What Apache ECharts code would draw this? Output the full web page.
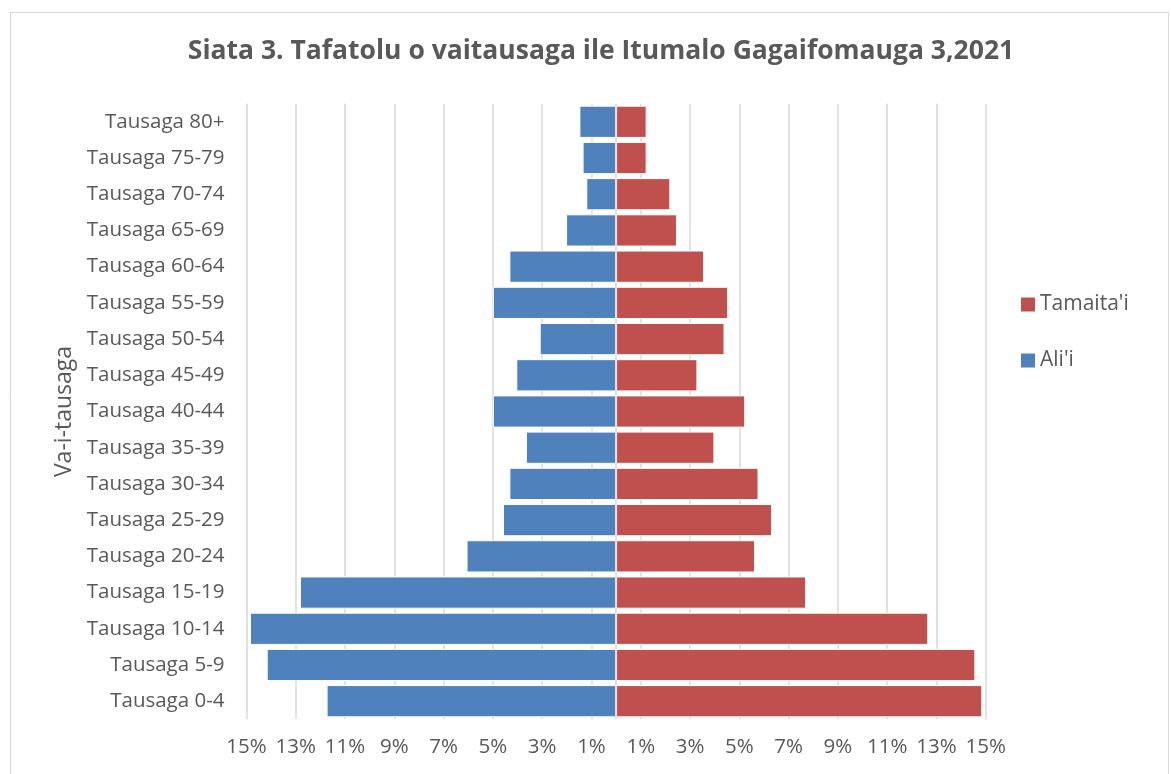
<!DOCTYPE html>
<html>
<head>
<meta charset="utf-8">
<script src="https://cdn.jsdelivr.net/npm/echarts@6/dist/echarts.min.js"></script>
<style>
  html, body { margin: 0; padding: 0; background: #fff; }
  #main { width: 1171px; height: 774px; }
</style>
</head>
<body>
<div id="main"></div>
<script>
// age groups, bottom to top
var ageGroups = ['Tausaga 0-4', 'Tausaga 5-9', 'Tausaga 10-14', 'Tausaga 15-19', 'Tausaga 20-24',
  'Tausaga 25-29', 'Tausaga 30-34', 'Tausaga 35-39', 'Tausaga 40-44', 'Tausaga 45-49',
  'Tausaga 50-54', 'Tausaga 55-59', 'Tausaga 60-64', 'Tausaga 65-69', 'Tausaga 70-74',
  'Tausaga 75-79', 'Tausaga 80+'];
// Ali'i (percent, drawn to the left)
var aliI = [11.75, 14.18, 14.86, 12.83, 6.07, 4.59, 4.33, 3.66, 5.0, 4.05, 3.1, 5.0, 4.33, 2.03, 1.21, 1.36, 1.49];
// Tamaita'i (percent, drawn to the right)
var tamaitaI = [14.86, 14.58, 12.67, 7.71, 5.64, 6.33, 5.78, 3.99, 5.24, 3.3, 4.4, 4.55, 3.57, 2.47, 2.2, 1.24, 1.24];

var font = '"Open Sans", sans-serif';
var grey = '#595959';

var myChart = echarts.init(document.getElementById('main'));

var option = {
  backgroundColor: '#fff',
  graphic: [{
    type: 'rect',
    shape: { x: 10.5, y: 12.5, width: 1158, height: 770 },
    style: { fill: 'none', stroke: '#d9d9d9', lineWidth: 1 },
    silent: true
  }],
  title: {
    text: 'Siata 3. Tafatolu o vaitausaga ile Itumalo Gagaifomauga 3,2021',
    left: 596,
    textAlign: 'center',
    top: 33,
    textStyle: { fontFamily: font, fontSize: 26.5, fontWeight: 'bold', color: grey }
  },
  legend: {
    data: ["Tamaita'i", "Ali'i"],
    orient: 'vertical',
    left: 1016,
    top: 289,
    itemWidth: 14,
    itemHeight: 14,
    itemGap: 35,
    icon: 'rect',
    itemStyle: { borderWidth: 0 },
    textStyle: { fontFamily: font, fontSize: 21, color: grey }
  },
  grid: { left: 246.5, right: 185.3, top: 103.7, bottom: 54.7, containLabel: false },
  xAxis: {
    type: 'value',
    min: -15,
    max: 15,
    interval: 2,
    axisLine: { show: false },
    axisTick: { show: false },
    axisLabel: {
      fontFamily: font, fontSize: 20.5, color: grey, margin: 17,
      formatter: function(v) { return Math.abs(v) + '%'; }
    },
    splitLine: { lineStyle: { color: '#d9d9d9', width: 1.5 } }
  },
  yAxis: {
    type: 'category',
    data: ageGroups,
    name: 'Va-i-tausaga',
    nameLocation: 'middle',
    nameGap: 170,
    nameRotate: 90,
    nameTextStyle: { fontFamily: font, fontSize: 23, color: grey },
    axisLine: { show: false },
    axisTick: { show: false },
    axisLabel: { fontFamily: font, fontSize: 20.5, color: grey, margin: 22 }
  },
  series: [{
    name: "Ali'i",
    type: 'bar',
    stack: 'pop',
    barCategoryGap: '11%',
    data: aliI.map(function(v) { return -v; }),
    itemStyle: { color: '#4f81bd', borderColor: '#fff', borderWidth: 1 },
    markLine: {
      silent: true,
      symbol: 'none',
      label: { show: false },
      lineStyle: { color: '#d9d9d9', type: 'solid', width: 1.5 },
      data: [{ xAxis: 0 }]
    }
  }, {
    name: "Tamaita'i",
    type: 'bar',
    stack: 'pop',
    barCategoryGap: '11%',
    data: tamaitaI,
    itemStyle: { color: '#c0504d', borderColor: '#fff', borderWidth: 1 }
  }]
};
myChart.setOption(option);
</script>
</body>
</html>
